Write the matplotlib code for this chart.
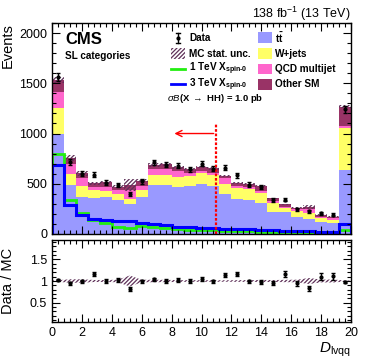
import numpy as np
import matplotlib.pyplot as plt
import matplotlib.patches as patches
from matplotlib.ticker import MultipleLocator

plt.rcParams['font.family'] = ['Liberation Sans', 'DejaVu Sans']
plt.rcParams['mathtext.fontset'] = 'custom'
plt.rcParams['mathtext.rm'] = 'Liberation Sans'
plt.rcParams['mathtext.it'] = 'Liberation Sans:italic'
plt.rcParams['mathtext.bf'] = 'Liberation Sans:bold'
plt.rcParams['hatch.linewidth'] = 0.9

# 25 bins of width 0.8 between 0 and 20
bin_edges = np.linspace(0, 20, 26)

ttbar = [1000, 485, 371, 355, 365, 338, 298, 365, 490, 490, 464, 478, 497,
         478, 398, 345, 338, 305, 222, 216, 172, 146, 123, 106, 637]
wjets = [254, 110, 110, 83, 66, 60, 50, 73, 97, 97, 100, 102, 107,
         109, 99, 110, 107, 106, 90, 40, 60, 60, 33, 33, 415]
qcd = [159, 105, 73, 33, 40, 40, 90, 43, 55, 63, 63, 30, 23,
       23, 57, 23, 26, 17, 20, 14, 14, 40, 16, 17, 23]
other_sm = [117, 53, 50, 33, 43, 33, 50, 50, 42, 42, 36, 33, 41,
            43, 23, 26, 26, 50, 23, 25, 16, 26, 17, 16, 192]
mc_unc = [30, 30, 24, 12, 12, 14, 62, 15, 20, 18, 15, 12, 13,
          12, 10, 10, 10, 12, 8, 8, 8, 19, 6, 6, 15]
data = [1560, 715, 600, 590, 512, 485, 400, 525, 712, 690, 678, 645, 700,
        648, 658, 585, 492, 468, 338, 342, 247, 226, 208, 191, 1240]
sig_1tev = [800, 335, 206, 139, 113, 73, 63, 80, 73, 63, 46, 40, 38,
            35, 32, 28, 25, 22, 20, 17, 15, 13, 12, 10, 40]
sig_3tev = [685, 289, 189, 146, 136, 133, 126, 106, 96, 86, 73, 66, 62,
            58, 54, 50, 45, 40, 36, 32, 28, 25, 22, 20, 100]

bkg_names = ['t$\\mathbf{\\bar{t}}$', 'W+jets', 'QCD multijet', 'Other SM']
bkg_colors = ['#9999ff', '#ffff66', '#ff66cc', '#993366']
sig_names = ['1 TeV X$_{\\mathbf{spin\u20100}}$', '3 TeV X$_{\\mathbf{spin\u20100}}$']
sig_colors = ['#22ee11', '#0000ff']
hatch_col = '#5e3058'
hatch = '////////'

fig = plt.figure(figsize=(3.74, 3.59), dpi=100)
ax = fig.add_axes([52/374, 1-234/359, 299/374, 211/359])
rax = fig.add_axes([52/374, 1-322/359, 299/374, 82/359])

centers = 0.5*(bin_edges[1:] + bin_edges[:-1])
bottom = np.zeros(len(ttbar))
for vals, col in zip([ttbar, wjets, qcd, other_sm], bkg_colors):
    top = bottom + np.array(vals)
    ax.stairs(top, bin_edges, baseline=bottom, fill=True, color=col, lw=0)
    bottom = top
total = bottom
unc = np.array(mc_unc)

ax.bar(centers, 2*unc, width=0.8, bottom=total-unc, facecolor='none',
       edgecolor=hatch_col, hatch=hatch, lw=0)

ax.stairs(sig_1tev, bin_edges, color=sig_colors[0], lw=2)
ax.stairs(sig_3tev, bin_edges, color=sig_colors[1], lw=2.2)

data = np.array(data)
ax.errorbar(centers, data, yerr=np.sqrt(data), fmt='o', color='black',
            ms=2, lw=1, capsize=1.2, capthick=1)

# cut line and arrow
ax.plot([11, 11], [0, 1100], color='red', ls=(0, (1.2, 0.8)), lw=1.6)
ax.annotate('', xy=(8, 1000), xytext=(11, 1000),
            arrowprops=dict(arrowstyle='->', color='red', lw=1, mutation_scale=11))

ax.set_xlim(0, 20)
ax.set_ylim(0, 2100)
ax.set_xticklabels([])
ax.yaxis.set_major_locator(MultipleLocator(500))
ax.yaxis.set_minor_locator(MultipleLocator(100))
for a in (ax, rax):
    a.xaxis.set_major_locator(MultipleLocator(2))
    a.xaxis.set_minor_locator(MultipleLocator(0.4))
    a.tick_params(which='both', direction='in', top=True, right=True, labelsize=9)
    a.tick_params(which='major', length=5.5, width=0.8)
    a.tick_params(which='minor', length=3, width=0.8)
    for s in a.spines.values():
        s.set_linewidth(1.0)

ax.set_ylabel('Events', fontsize=10.5, loc='top')
ax.yaxis.set_label_coords(-0.125, 1.0)

ax.text(0.045, 0.955, 'CMS', transform=ax.transAxes, fontsize=12,
        fontweight='bold', va='top', ha='left')
ax.text(0.045, 0.865, 'SL categories', transform=ax.transAxes, fontsize=7.2,
        fontweight='bold', va='top', ha='left')
fig.text(351/374, 1-18/359, '138 fb$^{-1}$ (13 TeV)', fontsize=9,
         ha='right', va='baseline')

# hand-made legend, two columns
tr = ax.transAxes
rows = [0.929, 0.855, 0.782, 0.709]
lx0, lx1, ltx = 0.398, 0.445, 0.458
rx0, rx1, rtx = 0.689, 0.736, 0.746
bh = 0.052
lprop = dict(transform=tr, fontsize=7.2, fontweight='bold', va='center', ha='left')

# Data
xm = 0.5*(lx0 + lx1)
ax.plot([xm, xm], [rows[0]-0.025, rows[0]+0.025], color='black', lw=1,
        transform=tr, clip_on=False)
for yc in (rows[0]-0.025, rows[0]+0.025):
    ax.plot([xm-0.006, xm+0.006], [yc, yc], color='black', lw=1,
            transform=tr, clip_on=False)
ax.plot([xm], [rows[0]], 'o', color='black', ms=2, transform=tr, clip_on=False)
ax.text(ltx, rows[0], 'Data', **lprop)

# MC stat. unc.
ax.add_patch(patches.Rectangle((lx0, rows[1]-bh/2), lx1-lx0, bh, transform=tr,
                               facecolor='none', edgecolor=hatch_col, hatch=hatch,
                               lw=0, clip_on=False))
ax.text(ltx, rows[1], 'MC stat. unc.', **lprop)

for yr, name, col in zip(rows[2:], sig_names, sig_colors):
    ax.plot([lx0, lx1], [yr, yr], color=col, lw=2, transform=tr, clip_on=False)
    ax.text(ltx, yr, name, **lprop)

for yr, name, col in zip(rows, bkg_names, bkg_colors):
    ax.add_patch(patches.Rectangle((rx0, yr-bh/2), rx1-rx0, bh, transform=tr,
                                   facecolor=col, lw=0, clip_on=False))
    ax.text(rtx, yr, name, **lprop)

ax.text(0.385, 0.640, '$\\sigma B$(X $\\rightarrow$ HH) = 1.0 pb',
        transform=tr, fontsize=6.8, fontweight='bold', va='center')

# ratio panel
ratio = data/total
rel = unc/total
xb = np.concatenate([[0], centers, [20]])
relb = np.concatenate([[rel[0]], rel, [rel[-1]]])
rax.fill_between(xb, 1 - relb, 1 + relb, facecolor='none', edgecolor=hatch_col,
                 hatch=hatch, lw=0)
rax.errorbar(centers, ratio, yerr=np.sqrt(data)/total, fmt='o', color='black',
             ms=2, lw=1, capsize=1.2, capthick=1)
rax.set_xlim(0, 20)
rax.set_ylim(0.05, 1.95)
rax.set_yticks([0.5, 1, 1.5])
rax.set_yticklabels(['0.5', '1', '1.5'])
rax.yaxis.set_minor_locator(MultipleLocator(0.1))
rax.set_ylabel('Data / MC', fontsize=10.5)
rax.yaxis.set_label_coords(-0.125, 0.5)
rax.set_xlabel('$D_{\\mathrm{lvqq}}$', fontsize=11, loc='right')
rax.xaxis.set_label_coords(1.0, -0.23)

fig.savefig('out.png', dpi=100)
